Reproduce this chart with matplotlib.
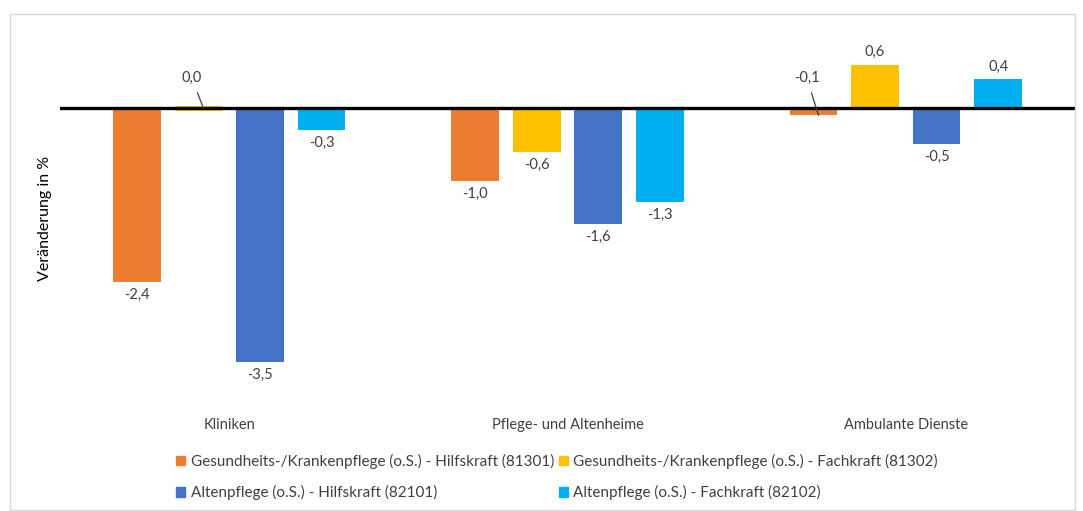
import matplotlib
matplotlib.use("Agg")
import matplotlib.pyplot as plt
from matplotlib.patches import Rectangle, Patch
import numpy as np

# data
categories = ["Kliniken", "Pflege- und Altenheime", "Ambulante Dienste"]
series_names = [
    "Gesundheits-/Krankenpflege (o.S.) - Hilfskraft (81301)",
    "Gesundheits-/Krankenpflege (o.S.) - Fachkraft (81302)",
    "Altenpflege (o.S.) - Hilfskraft (82101)",
    "Altenpflege (o.S.) - Fachkraft (82102)",
]
hilfskraft_81301 = [-2.4, -1.0, -0.1]
fachkraft_81302 = [0.0, -0.6, 0.6]
hilfskraft_82101 = [-3.5, -1.6, -0.5]
fachkraft_82102 = [-0.3, -1.3, 0.4]
colors = ["#ED7D31", "#FFC000", "#4472C4", "#00B0F0"]

plt.rcParams['font.family'] = ['Lato', 'DejaVu Sans']
txt_col = "#404040"

fig = plt.figure(figsize=(10.83, 5.11), dpi=100)
ax = fig.add_axes([60/1083, 111/511, 1015/1083, 370/511])

x = np.arange(len(categories))
w = 0.141
step = 0.182
all_series = [hilfskraft_81301, fachkraft_81302, hilfskraft_82101, fachkraft_82102]

for i, vals in enumerate(all_series):
    pos = x + (i - 1.5) * step
    bars = ax.bar(pos, vals, width=w, color=colors[i], zorder=2)
    for b, p, v in zip(bars, pos, vals):
        lab = f"{v:.1f}".replace(".", ",")
        if v == 0:
            b.set_edgecolor(colors[i])
            b.set_linewidth(3.5)
        if abs(v) < 0.15:
            # small values: label above with leader line
            ax.annotate(lab, xy=(p + 0.015, v), xytext=(p - 0.02, 0.42),
                        ha="center", va="center", fontsize=10.5, color=txt_col,
                        arrowprops=dict(arrowstyle="-", color=txt_col, lw=0.9,
                                        shrinkA=4, shrinkB=0), zorder=4)
        elif v < 0:
            ax.text(p, v - 0.08, lab, ha="center", va="top", fontsize=10.5, color=txt_col)
        else:
            ax.text(p, v + 0.08, lab, ha="center", va="bottom", fontsize=10.5, color=txt_col)

ax.axhline(0, color="black", lw=2.4, zorder=3)
ax.set_xlim(-0.5, 2.5)
ax.set_ylim(-4.03, 1.08)
ax.set_xticks(x)
ax.set_xticklabels(categories, fontsize=10.5, color=txt_col)
ax.tick_params(axis="x", length=0, pad=13)
ax.set_yticks([])
for s in ax.spines.values():
    s.set_visible(False)

fig.text(45/1083, 1 - 218/511, "Veränderung in %", rotation=90, ha="center", va="center",
         fontsize=11.5, color="black")

order = [0, 2, 1, 3]  # row-wise filling
handles = [Patch(color=colors[k]) for k in order]
fig.legend(handles, [series_names[k] for k in order], ncol=2, loc="center",
           bbox_to_anchor=(557/1083, 1 - 477/511), frameon=False,
           fontsize=11, handlelength=0.6, handleheight=0.6,
           handletextpad=0.35, columnspacing=0.3, labelspacing=1.05, labelcolor=txt_col)

fig.patches.append(Rectangle((10/1083, 1/511), 1065/1083, 496/511, transform=fig.transFigure,
                             fill=False, edgecolor="#D9D9D9", lw=1))

fig.savefig("out.png", dpi=100)
